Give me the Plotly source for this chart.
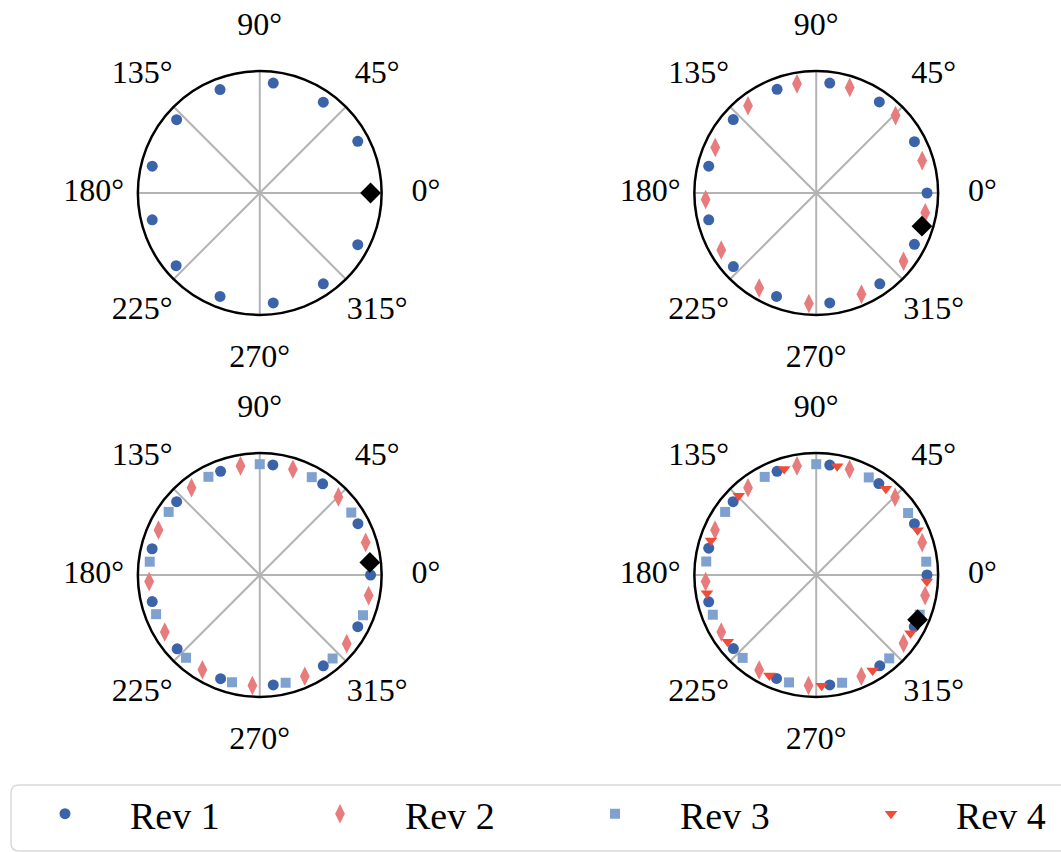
import plotly.graph_objects as go

# ---------------- data (angles in degrees) ----------------
tick_vals = [0, 45, 90, 135, 180, 225, 270, 315]
tick_text = ["0°", "45°", "90°", "135°", "180°", "225°", "270°", "315°"]

series_names = ["Rev 1", "Rev 2", "Rev 3", "Rev 4"]

# panel 1 (top left)
p1_rev1 = [27.8, 55.0, 83.0, 111.0, 138.6, 166.0, 194.0, 221.0, 249.0, 277.0, 305.0, 332.2]
p1_mark = [0.0]

# panel 2 (top right)
p2_rev1 = [0.0, 27.6, 55.3, 83.0, 110.7, 138.5, 166.0, 194.0, 221.6, 249.0, 277.0, 305.0, 332.4]
p2_rev2 = [349.7, 17.0, 44.3, 72.4, 100.0, 128.0, 155.7, 183.4, 211.0, 239.0, 266.2, 294.1, 322.0]
p2_mark = [342.6]

# panel 3 (bottom left)
p3_rev1 = [0.0, 27.6, 55.4, 83.2, 110.7, 138.6, 166.3, 193.9, 221.8, 249.3, 277.0, 305.0, 332.2]
p3_rev2 = [349.3, 17.1, 44.8, 72.6, 100.0, 128.0, 156.0, 183.4, 211.0, 238.8, 266.2, 294.0, 321.7]
p3_rev3 = [34.3, 62.0, 90.0, 117.6, 145.3, 173.1, 200.7, 228.3, 255.5, 283.5, 311.1, 338.7]
p3_mark = [6.5]

# panel 4 (bottom right)
p4_rev1 = [0.0, 27.6, 55.6, 83.0, 110.7, 138.6, 166.0, 194.0, 221.6, 249.0, 277.0, 305.0, 332.2]
p4_rev2 = [349.3, 17.0, 44.6, 72.5, 100.0, 128.0, 156.0, 183.4, 211.0, 239.0, 266.0, 294.0, 322.0]
p4_rev3 = [6.9, 34.0, 61.7, 90.0, 117.7, 145.3, 173.0, 201.0, 228.4, 255.8, 283.5, 311.2, 339.0]
p4_rev4 = [356.6, 23.8, 51.1, 79.1, 106.8, 134.4, 161.8, 189.5, 217.0, 245.0, 272.8, 300.6, 328.3]
p4_mark = [336.2]

radius = 1.0        # radius of every point
radial_max = 1.1    # outer circle
label_radius = 1.5  # where the angle labels sit (outside the circle)
label_max = 1.6     # range of the invisible label overlay

# ---------------- styles ----------------
FONT = "Liberation Serif"
styles = {
    "Rev 1": dict(color="#3b63a9", symbol="circle", size=11),
    "Rev 2": dict(color="#e87b7b", symbol="diamond-tall", size=14),
    "Rev 3": dict(color="#7fa1d0", symbol="square", size=10),
    "Rev 4": dict(color="#f04c37", symbol="triangle-down", size=11),
}
legend_ids = {"Rev 1": "legend", "Rev 2": "legend2", "Rev 3": "legend3", "Rev 4": "legend4"}

fig = go.Figure()
shown = set()


def add_series(name, thetas, subplot):
    st = styles[name]
    fig.add_trace(go.Scatterpolar(
        r=[radius] * len(thetas), theta=thetas, mode="markers", name=name,
        marker=dict(color=st["color"], symbol=st["symbol"], size=st["size"], line=dict(width=0)),
        subplot=subplot, showlegend=name not in shown, legend=legend_ids[name],
        legendgroup=name, cliponaxis=False,
    ))
    shown.add(name)


def add_mark(thetas, subplot):
    fig.add_trace(go.Scatterpolar(
        r=[radius] * len(thetas), theta=thetas, mode="markers",
        marker=dict(color="black", symbol="diamond", size=16, line=dict(width=0)),
        subplot=subplot, showlegend=False, cliponaxis=False,
    ))


def add_angle_labels(subplot):
    fig.add_trace(go.Scatterpolar(
        r=[label_radius] * len(tick_vals), theta=tick_vals, mode="text",
        text=tick_text, textposition="middle center",
        textfont=dict(family=FONT, size=32, color="black"),
        subplot=subplot, showlegend=False, cliponaxis=False, hoverinfo="skip",
    ))


# draw order: Rev 2, Rev 3, Rev 1, Rev 4, marker
add_series("Rev 1", p1_rev1, "polar")
add_mark(p1_mark, "polar")

add_series("Rev 2", p2_rev2, "polar2")
add_series("Rev 1", p2_rev1, "polar2")
add_mark(p2_mark, "polar2")

add_series("Rev 2", p3_rev2, "polar3")
add_series("Rev 3", p3_rev3, "polar3")
add_series("Rev 1", p3_rev1, "polar3")
add_mark(p3_mark, "polar3")

add_series("Rev 2", p4_rev2, "polar4")
add_series("Rev 3", p4_rev3, "polar4")
add_series("Rev 1", p4_rev1, "polar4")
add_series("Rev 4", p4_rev4, "polar4")
add_mark(p4_mark, "polar4")

for sp in ["polar5", "polar6", "polar7", "polar8"]:
    add_angle_labels(sp)

W, H = 1061, 852
R = 122
RL = R * label_max / radial_max
centers = {"polar": (259, 193), "polar2": (816, 193), "polar3": (259, 575), "polar4": (816, 575)}
label_of = {"polar": "polar5", "polar2": "polar6", "polar3": "polar7", "polar4": "polar8"}


def dom(cx, cy, rad):
    return dict(x=[(cx - rad) / W, (cx + rad) / W], y=[1 - (cy + rad) / H, 1 - (cy - rad) / H])


def polar_layout(cx, cy):
    return dict(
        domain=dom(cx, cy, R),
        bgcolor="white",
        radialaxis=dict(range=[0, radial_max], visible=False, showgrid=False),
        angularaxis=dict(
            direction="counterclockwise", rotation=0,
            tickmode="array", tickvals=tick_vals, ticktext=tick_text,
            showgrid=True, gridcolor="#b3b3b3", gridwidth=1.5,
            showline=True, linecolor="black", linewidth=2.5,
            ticks="", showticklabels=False,
        ),
    )


def label_layout(cx, cy):
    return dict(
        domain=dom(cx, cy, RL),
        bgcolor="rgba(0,0,0,0)",
        radialaxis=dict(range=[0, label_max], visible=False, showgrid=False),
        angularaxis=dict(direction="counterclockwise", rotation=0, visible=False,
                         showgrid=False, showline=False),
    )


def legend_layout(symbol_x):
    return dict(
        orientation="h", x=(symbol_x - 63) / W, xanchor="left",
        y=1 - 814 / H, yanchor="middle",
        font=dict(family=FONT, size=38, color="black"),
        itemwidth=120, bgcolor="rgba(0,0,0,0)", borderwidth=0,
    )


layout = dict(
    width=W, height=H,
    margin=dict(l=0, r=0, t=0, b=0),
    paper_bgcolor="white",
    font=dict(family=FONT, color="black"),
    showlegend=True,
)
for k, (cx, cy) in centers.items():
    layout[k] = polar_layout(cx, cy)
    layout[label_of[k]] = label_layout(cx, cy)
for name, sx in zip(series_names, [62, 338, 613, 889]):
    layout[legend_ids[name]] = legend_layout(sx)

fig.update_layout(**layout)

# rounded legend frame (extends past the right edge, as in the reference)
x0, x1 = 10 / W, 1075 / W
y0, y1 = 1 - 851 / H, 1 - 785 / H
rx, ry = 8 / W, 8 / H
path = (f"M {x0 + rx} {y1} L {x1 - rx} {y1} Q {x1} {y1} {x1} {y1 - ry} L {x1} {y0 + ry} "
        f"Q {x1} {y0} {x1 - rx} {y0} L {x0 + rx} {y0} Q {x0} {y0} {x0} {y0 + ry} "
        f"L {x0} {y1 - ry} Q {x0} {y1} {x0 + rx} {y1} Z")
fig.add_shape(type="path", path=path, xref="paper", yref="paper",
              line=dict(color="#d9d9d9", width=1.5), layer="below")

fig.write_html("out.html")
